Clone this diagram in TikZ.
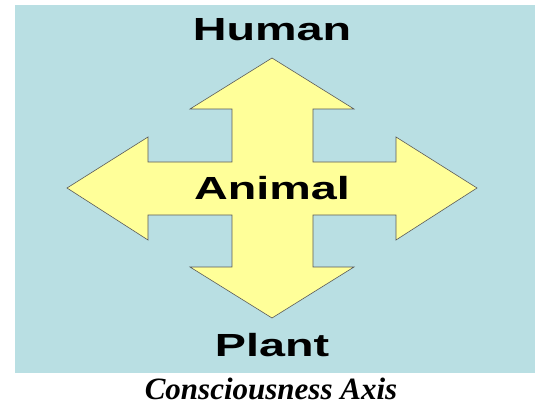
\documentclass[tikz,border=0pt]{standalone}
\usepackage{fontspec}
\setmainfont{Liberation Serif}
\newfontfamily\axisfont[FakeStretch=1.46]{Liberation Sans}
\usepackage{xcolor}
\usepackage{tikz}
\usetikzlibrary{positioning, calc}

\definecolor{axisbg}{HTML}{B9DFE3}
\definecolor{arrowfill}{HTML}{FFFF99}
\definecolor{arrowline}{HTML}{5A5A5A}

\begin{document}
\begin{tikzpicture}[x=1pt,y=-1pt,
  level/.style={font=\axisfont\bfseries\fontsize{32}{32}\selectfont, anchor=base, inner sep=0pt}]
  \useasboundingbox (0,0) rectangle (535,406);

  % Background panel
  \fill[axisbg] (15,5) rectangle (535,373);

  % Four-way arrow
  \coordinate (T) at (272,58);
  \coordinate (R) at (477,188);
  \coordinate (B) at (272,318);
  \coordinate (L) at (67,188);
  \draw[arrowline, fill=arrowfill, line width=0.6pt, line join=miter]
    (T) -- (354,109) -- (313,109) -- (313,162) -- (396,162) -- (396,137)
    -- (R) -- (396,240) -- (396,215) -- (313,215) -- (313,267) -- (354,267)
    -- (B) -- (190,267) -- (232,267) -- (232,215) -- (148,215) -- (148,240)
    -- (L) -- (148,137) -- (148,162) -- (232,162) -- (232,109) -- (190,109)
    -- cycle;

  % Labels
  \node[level] (human) at (272,41) {Human};
  \node[level] (animal) at (272,200) {Animal};
  \node[level] (plant) at (272,356) {Plant};

  % Caption
  \node[anchor=base, inner sep=0pt, font=\bfseries\itshape\fontsize{31}{31}\selectfont]
    (caption) at (271,399) {Consciousness Axis};
\end{tikzpicture}
\end{document}
